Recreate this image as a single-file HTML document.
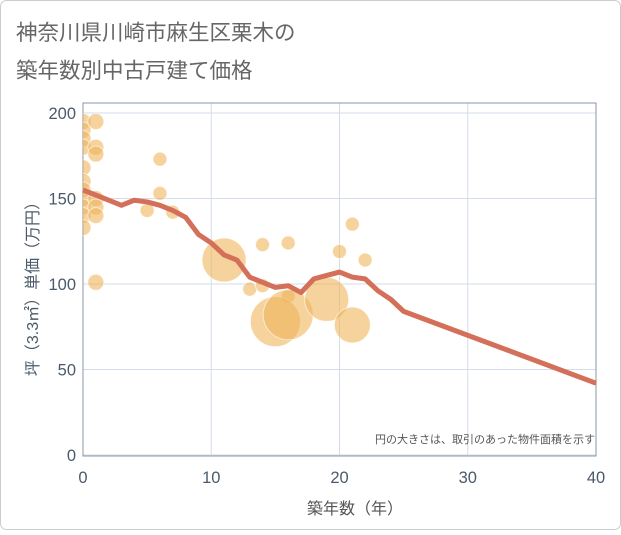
<!DOCTYPE html>
<html><head><meta charset="utf-8"><style>
body{margin:0;background:#fff;}
svg{font-family:"Liberation Sans","Noto Sans CJK JP",sans-serif;}
</style></head><body>
<svg width="621" height="530" xmlns="http://www.w3.org/2000/svg">
<defs><clipPath id="plotclip"><rect x="83" y="103" width="513" height="353"/></clipPath></defs>
<rect x="0.5" y="0.5" width="620" height="529" rx="6" fill="#fff" stroke="#ccc"/>
<text x="16" y="40" font-size="21.5" fill="#666">神奈川県川崎市麻生区栗木の</text>
<text x="16" y="78" font-size="21.5" fill="#666">築年数別中古戸建て価格</text>
<g id="grid"></g>
<rect x="83" y="103" width="513" height="353" fill="none" stroke="#8a97a6"/>
<g id="bubbles" clip-path="url(#plotclip)"></g>
<g id="line"></g>
<g id="ticks"></g>
<text x="595" y="443" font-size="11" fill="#555" text-anchor="end">円の大きさは、取引のあった物件面積を示す</text>
<text x="355" y="514" font-size="16" fill="#555" text-anchor="middle">築年数（年）</text>
<text transform="translate(38,285) rotate(-90)" font-size="16" fill="#4a5a6a" text-anchor="middle">坪（3.3㎡）単価（万円）</text>
</svg>
<script>
const lineYears=[0,1,3,4,5,6,7,8,9,10,11,12,13,14,15,16,17,18,19,20,21,22,23,24,25,40];
const lineValues=[155,152,146,149,148,146,143,139,129,124,117,114,104,101,98,99,95,103,105,107,104,103,96,91,84,42];
const bubbleX=[0,0,0,0,0,0,0,0,0,0,0,1,1,1,1,1,1,1,5,6,6,7,11,13,14,14,16,16,15,16,19,21,20,21,22];
const bubbleY=[195,190,185,180,168,160,155,150,145,140,133,195,180,176,150,145,140,101,143,173,153,142,114,97,123,99,124,93,78,82,91,76,119,135,114];
const bubbleR=[8,8,8,8,8,8,8,8,8,8,8,8,8,8,8,8,8,8,7,7,7,7,22,7,7,7,7,7,25,25,22,18,7,7,7];
const xTicks=[0,10,20,30,40];
const yTicks=[0,50,100,150,200];
const NS="http://www.w3.org/2000/svg";
const sx=v=>83+v*12.825, sy=v=>455-v*1.71;
function mk(t,a,p){const e=document.createElementNS(NS,t);for(const k in a)e.setAttribute(k,a[k]);p.appendChild(e);return e;}
const grid=document.getElementById('grid'),ticks=document.getElementById('ticks');
xTicks.forEach(v=>{
 const l=mk('line',{x1:sx(v),x2:sx(v),y1:103,y2:456,stroke:'#d3dde9'},grid);
 
 
 const t=mk('text',{x:sx(v),y:483,'font-size':16.5,fill:'#4a5a6a','text-anchor':'middle'},ticks);
 t.textContent=v;
 
 
});
yTicks.forEach(v=>{
 const l=mk('line',{x1:83,x2:596,y1:sy(v),y2:sy(v),stroke:'#d3dde9'},grid);
 
 
 const t=mk('text',{x:76,y:sy(v)+6,'font-size':16.5,fill:'#4a5a6a','text-anchor':'end'},ticks);
 t.textContent=v;
 
 
});
const bg=document.getElementById('bubbles');
bubbleX.forEach((x,i)=>{
 const c=mk('circle',{cx:sx(x),cy:sy(bubbleY[i]),r:bubbleR[i],fill:'rgba(240,180,90,0.6)',stroke:'rgba(255,255,255,0.6)'},bg);
 
 
});
const p=mk('polyline',{points:lineYears.map((x,i)=>sx(x)+','+sy(lineValues[i])).join(' '),fill:'none',stroke:'#d4705a','stroke-width':5,'stroke-linejoin':'round'},document.getElementById('line'));


</script>
</body></html>
